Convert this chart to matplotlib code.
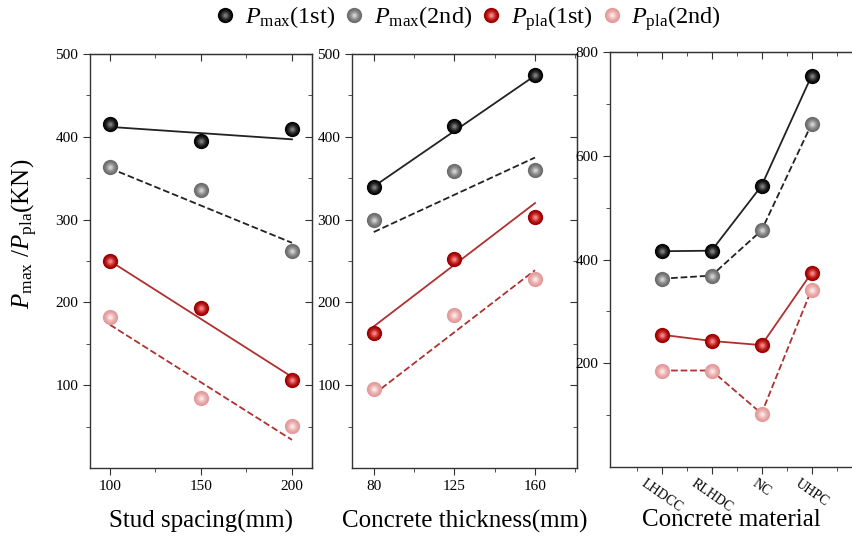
import numpy as np
import matplotlib
matplotlib.use("Agg")
import matplotlib.pyplot as plt
from matplotlib.lines import Line2D
from matplotlib.colors import to_rgb
from matplotlib.ticker import FixedLocator, NullFormatter

plt.rcParams['font.family'] = ['Liberation Serif', 'DejaVu Serif']
plt.rcParams['mathtext.fontset'] = 'custom'
plt.rcParams['mathtext.rm'] = 'Liberation Serif'
plt.rcParams['mathtext.it'] = 'Liberation Serif:italic'

# ---- data ----
stud_x = [100, 150, 200]
stud_pmax1 = [415, 395, 409]
stud_pmax2 = [363, 336, 262]
stud_ppla1 = [250, 193, 106]
stud_ppla2 = [183, 84, 51]
# fitted lines, value at the first and last spacing
stud_fit_pmax1 = [412, 397]
stud_fit_pmax2 = [362, 272]
stud_fit_ppla1 = [250, 110]
stud_fit_ppla2 = [173, 34]

thick_labels = ['80', '125', '160']
thick_pmax1 = [339, 413, 475]
thick_pmax2 = [300, 359, 360]
thick_ppla1 = [163, 253, 303]
thick_ppla2 = [96, 185, 228]
thick_fit_pmax1 = [340, 474]
thick_fit_pmax2 = [285, 375]
thick_fit_ppla1 = [171, 320]
thick_fit_ppla2 = [89, 239]

mat_labels = ['LHDCC', 'RLHDC', 'NC', 'UHPC']
mat_pmax1 = [416, 417, 542, 754]
mat_pmax2 = [363, 369, 456, 661]
mat_ppla1 = [255, 243, 235, 374]
mat_ppla2 = [186, 186, 103, 342]

# sphere colours: (edge, highlight)
sph = {
    'pmax1': ('#050505', '#7a7a7a'),
    'pmax2': ('#6e6e6e', '#cfcfcf'),
    'ppla1': ('#a00000', '#ff8080'),
    'ppla2': ('#e39c9c', '#fde6e6'),
}
black_line = '#222222'
red_line = '#b03030'
MS = 11


def sphere_layers(c_edge, c_hi, ms=MS, n=10):
    a = np.array(to_rgb(c_edge))
    b = np.array(to_rgb(c_hi))
    out = []
    for i in range(n):
        t = i / (n - 1)
        out.append((ms * (1 - 0.8 * t), tuple(a + (b - a) * t ** 1.8)))
    return out


def sphere(ax, x, y, key):
    for s, c in sphere_layers(*sph[key]):
        ax.plot(x, y, 'o', ms=s, color=c, mec='none', zorder=5, clip_on=False)


def style(ax, xmaj, xmin, ymaj, ymin, right=True):
    for sp in ax.spines.values():
        sp.set_color('#333333')
        sp.set_linewidth(1.0)
    ax.set_xticks(xmaj)
    ax.set_xticks(xmin, minor=True)
    ax.set_yticks(ymaj)
    ax.set_yticks(ymin, minor=True)
    ax.tick_params(which='both', direction='out', labelsize=11, color='#333333')
    ax.tick_params(which='major', length=5)
    ax.tick_params(which='minor', length=3)
    # mirrored ticks pointing inward
    top = ax.secondary_xaxis('top')
    top.set_xticks(xmaj)
    top.xaxis.set_minor_locator(FixedLocator(xmin))
    top.tick_params(which='both', direction='in', labeltop=False, color='#333333')
    top.tick_params(which='major', length=5)
    top.tick_params(which='minor', length=3)
    top.xaxis.set_major_formatter(NullFormatter())
    top.spines['top'].set_color('#333333')
    if right:
        r = ax.secondary_yaxis('right')
        r.set_yticks(ymaj)
        r.yaxis.set_minor_locator(FixedLocator(ymin))
        r.tick_params(which='both', direction='in', labelright=False, color='#333333')
        r.tick_params(which='major', length=5)
        r.tick_params(which='minor', length=3)
        r.yaxis.set_major_formatter(NullFormatter())
        r.spines['right'].set_color('#333333')
    else:
        ax.spines['right'].set_visible(False)
    ax.xaxis.label.set_va('center')
    ax.xaxis.set_label_coords(0.5, -0.128)


fig = plt.figure(figsize=(8.52, 5.41), dpi=100)
ax1 = fig.add_axes([0.1056, 0.1349, 0.2606, 0.7652])
ax2 = fig.add_axes([0.4131, 0.1349, 0.2641, 0.7652])
ax3 = fig.add_axes([0.716, 0.1368, 0.284, 0.767])

# panel 1: stud spacing
xe = [stud_x[0], stud_x[-1]]
ax1.plot(xe, stud_fit_pmax1, '-', color=black_line, lw=1.3)
ax1.plot(xe, stud_fit_pmax2, '--', color=black_line, lw=1.3)
ax1.plot(xe, stud_fit_ppla1, '-', color=red_line, lw=1.3)
ax1.plot(xe, stud_fit_ppla2, '--', color=red_line, lw=1.3)
for key, vals in [('pmax1', stud_pmax1), ('pmax2', stud_pmax2),
                  ('ppla1', stud_ppla1), ('ppla2', stud_ppla2)]:
    sphere(ax1, stud_x, vals, key)
ax1.set_xlim(89, 211)
ax1.set_ylim(0, 500)
style(ax1, stud_x, [125, 175], [100, 200, 300, 400, 500], [50, 150, 250, 350, 450])
ax1.set_xlabel('Stud spacing(mm)', fontsize=18)
ax1.set_ylabel(r'$P_{\rm max}$ /$P_{\rm pla}$(KN)', fontsize=18)
ax1.yaxis.label.set_va('center')
ax1.yaxis.label.set_ha('center')
ax1.yaxis.set_label_coords(-0.293, 0.565)

# panel 2: concrete thickness (equally spaced positions)
tx = np.arange(len(thick_labels))
te = [tx[0], tx[-1]]
ax2.plot(te, thick_fit_pmax1, '-', color=black_line, lw=1.3)
ax2.plot(te, thick_fit_pmax2, '--', color=black_line, lw=1.3)
ax2.plot(te, thick_fit_ppla1, '-', color=red_line, lw=1.3)
ax2.plot(te, thick_fit_ppla2, '--', color=red_line, lw=1.3)
for key, vals in [('pmax1', thick_pmax1), ('pmax2', thick_pmax2),
                  ('ppla1', thick_ppla1), ('ppla2', thick_ppla2)]:
    sphere(ax2, tx, vals, key)
ax2.set_xlim(-0.27, 2.52)
ax2.set_ylim(0, 500)
style(ax2, tx, [0.5, 1.5, 2.5], [100, 200, 300, 400, 500], [50, 150, 250, 350, 450])
ax2.set_xticklabels(thick_labels)
ax2.set_xlabel('Concrete thickness(mm)', fontsize=18)

# panel 3: concrete material
mx = np.arange(len(mat_labels))
ax3.plot(mx, mat_pmax1, '-', color=black_line, lw=1.3)
ax3.plot(mx, mat_pmax2, '--', color=black_line, lw=1.3)
ax3.plot(mx, mat_ppla1, '-', color=red_line, lw=1.3)
ax3.plot(mx, mat_ppla2, '--', color=red_line, lw=1.3)
for key, vals in [('pmax1', mat_pmax1), ('pmax2', mat_pmax2),
                  ('ppla1', mat_ppla1), ('ppla2', mat_ppla2)]:
    sphere(ax3, mx, vals, key)
ax3.set_xlim(-1.03, 3.81)
ax3.set_ylim(0, 800)
style(ax3, mx, [-0.5, 0.5, 1.5, 2.5, 3.5], [200, 400, 600, 800], [100, 300, 500, 700],
      right=False)
ax3.set_xticklabels(mat_labels, rotation=-35, ha='center', va='top', fontsize=10)
ax3.tick_params(axis='x', which='major', pad=2)
ax3.set_xlabel('Concrete material', fontsize=18)

# legend with sphere markers
handles = []
for key in ['pmax1', 'pmax2', 'ppla1', 'ppla2']:
    handles.append(tuple(Line2D([], [], ls='none', marker='o', ms=s, color=c, mec='none')
                         for s, c in sphere_layers(*sph[key], ms=11)))
labels = [r'$P_{\rm max}$(1st)', r'$P_{\rm max}$(2nd)',
          r'$P_{\rm pla}$(1st)', r'$P_{\rm pla}$(2nd)']
fig.legend(handles, labels, loc='center', bbox_to_anchor=(0.548, 0.966), ncol=4,
           frameon=False, fontsize=17.5, handlelength=1.0, handletextpad=0.3,
           columnspacing=0.3)

fig.savefig('out.png', dpi=100)
